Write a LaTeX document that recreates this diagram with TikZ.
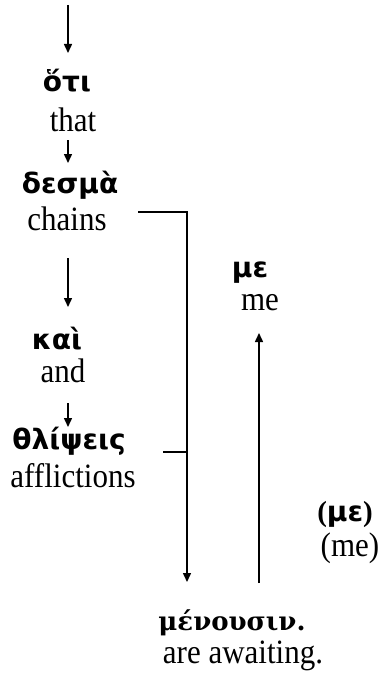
\documentclass[tikz,border=0pt]{standalone}
\usepackage{fontspec}
\usepackage{graphicx}
\setmainfont{Liberation Serif}
\newfontfamily\grkfont{DejaVu Sans}
\newfontfamily\grkserif{DejaVu Serif}
\usetikzlibrary{arrows.meta}
% English glosses are set a little taller than wide
\newcommand\glosstext[1]{\scalebox{1}[1.1]{#1}}
\begin{document}
\begin{tikzpicture}[x=1pt,y=-1pt,
  gr/.style={font=\grkfont\bfseries\fontsize{28}{32}\selectfont, inner sep=0pt, anchor=base},
  en/.style={font=\fontsize{31}{36}\selectfont, inner sep=0pt, anchor=base},
  link/.style={line width=1.5pt},
  arr/.style={line width=1.5pt, -{Triangle[length=9pt,width=8pt]}}]
\useasboundingbox (0,0) rectangle (380,677);

% left column: the chain of clauses
\node[gr] (hoti)  at (67,92)  {ὅτι};
\node[en] (that)  at (73,131) {\glosstext{that}};
\node[gr] (desma) at (70,193) {δεσμὰ};
\node[en] (chains) at (67,230) {\glosstext{chains}};
\node[gr] (kai)   at (57,349) {καὶ};
\node[en] (and)   at (63,382) {\glosstext{and}};
\node[gr] (thl)   at (69,449) {θλίψεις};
\node[en] (affl)  at (73,487) {\glosstext{afflictions}};

% right side: object and verb
\node[gr] (me)    at (250,277) {με};
\node[en] (meE)   at (260,310) {\glosstext{me}};
\node[gr] (pme)   at (345,521) {{\rmfamily\bfseries\fontsize{29}{32}\selectfont (}με{\rmfamily\bfseries\fontsize{29}{32}\selectfont )}};
\node[en] (pmeE)  at (350,556) {\glosstext{(me)}};
\node[font=\grkserif\bfseries\fontsize{26}{30}\selectfont, inner sep=0pt, anchor=base] (men) at (232,630) {μένουσιν.};
\node[en] (await) at (243,663) {\glosstext{are awaiting.}};

% free ends and corners of the connectors
\coordinate (top)  at (68,5);
\coordinate (a1e)  at (68,53);
\coordinate (a2s)  at (68,140);
\coordinate (a2e)  at (68,163);
\coordinate (a3s)  at (68,258);
\coordinate (a3e)  at (68,307);
\coordinate (a4s)  at (68,403);
\coordinate (a4e)  at (68,427);
\coordinate (bt)   at (138,212);
\coordinate (btc)  at (187,212);
\coordinate (bm)   at (163,452);
\coordinate (bmc)  at (187,452);
\coordinate (bend) at (187,582);
\coordinate (ups)  at (259,583);
\coordinate (upe)  at (259,333);

% downward arrows of the left column
\draw[arr] (top) -- (a1e);
\draw[arr] (a2s) -- (a2e);
\draw[arr] (a3s) -- (a3e);
\draw[arr] (a4s) -- (a4e);

% bracket joining the two subjects to the verb
\draw[link] (bt) -- (btc) -- (bmc);
\draw[link] (bm) -- (bmc);
\draw[arr] (bmc) -- (bend);

% object arrow
\draw[arr] (ups) -- (upe);
\end{tikzpicture}
\end{document}
